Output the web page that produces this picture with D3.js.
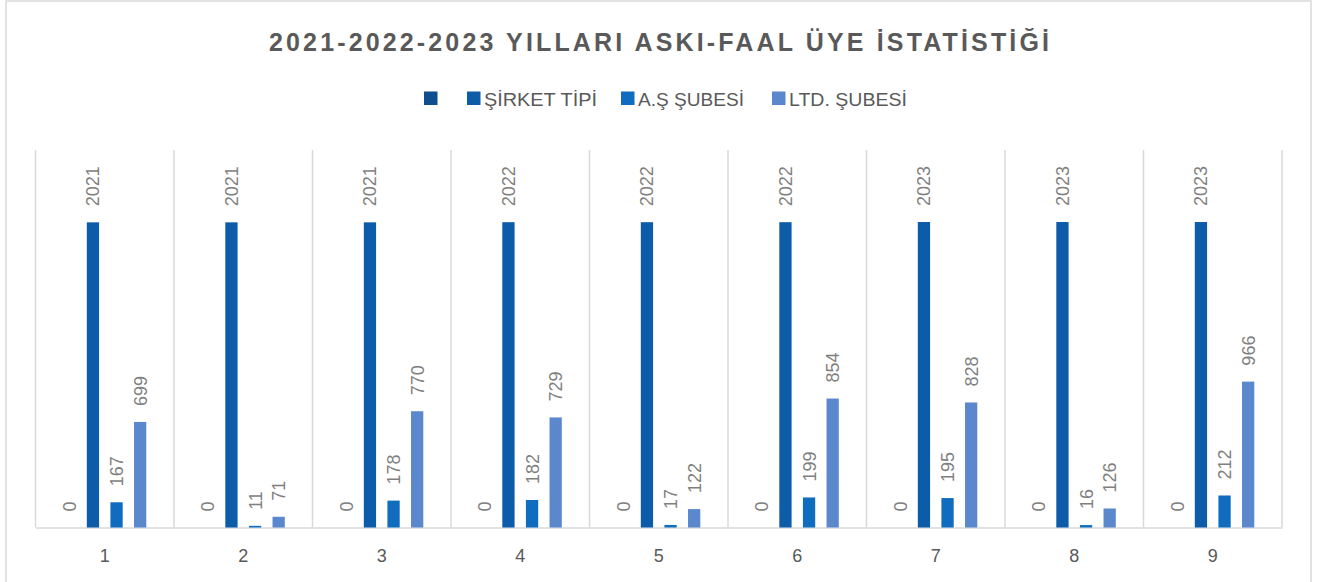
<!DOCTYPE html>
<html>
<head>
<meta charset="utf-8">
<script src="https://cdn.jsdelivr.net/npm/d3@7"></script>
<style>
  body { margin: 0; background: #fff; }
  text { font-family: "Liberation Sans", "Open Sans", sans-serif; }
</style>
</head>
<body>
<div id="target"></div>
<script>
// chart data
let categories = ["1", "2", "3", "4", "5", "6", "7", "8", "9"]
let seriesNames = ["", "ŞİRKET TİPİ", "A.Ş ŞUBESİ", "LTD. ŞUBESİ"]
let blankSeries = [0, 0, 0, 0, 0, 0, 0, 0, 0]
let sirketTipi = [2021, 2021, 2021, 2022, 2022, 2022, 2023, 2023, 2023]
let asSubesi = [167, 11, 178, 182, 17, 199, 195, 16, 212]
let ltdSubesi = [699, 71, 770, 729, 122, 854, 828, 126, 966]
let yDomain = [0, 2500]
let colors = ["#0f4f8f", "#0c5ca9", "#0f6cbf", "#5b88cc"]
let title = "2021-2022-2023 YILLARI ASKI-FAAL ÜYE İSTATİSTİĞİ"

let allSeries = [blankSeries, sirketTipi, asSubesi, ltdSubesi]

let width = 1330, height = 582
let plot = { left: 35.5, right: 1282, top: 150, bottom: 527.5 }

let svg = d3.select("#target").append("svg")
svg.attr("width", width).attr("height", height)

// outer chart border
svg.append("rect")
    .attr("x", 6).attr("y", 1)
    .attr("width", 1305).attr("height", 590)
    .attr("fill", "#fff")
    .attr("stroke", "#d9d9d9").attr("stroke-width", 1.5)

// title
svg.append("text")
    .attr("x", 659).attr("y", 51)
    .attr("text-anchor", "middle")
    .attr("font-size", 25).attr("font-weight", "bold")
    .attr("fill", "#595959")
    .attr("textLength", 780).attr("lengthAdjust", "spacing")
    .text(title)

// legend
let legendX = [424, 467, 621, 772]
let legendW = [0, 113, 106, 118]
let legend = svg.append("g")
seriesNames.forEach((name, i) => {
    legend.append("rect")
        .attr("x", legendX[i]).attr("y", 91.5)
        .attr("width", 13.5).attr("height", 13.5)
        .attr("fill", colors[i])
    if (name) {
        legend.append("text")
            .attr("x", legendX[i] + 17).attr("y", 105.5)
            .attr("font-size", 19).attr("fill", "#595959")
            .attr("textLength", legendW[i]).attr("lengthAdjust", "spacingAndGlyphs")
            .text(name)
    }
})

let x0 = d3.scaleBand().domain(categories).range([plot.left, plot.right])
let bw = x0.bandwidth()
let groupPad = bw * 0.2
let x1 = d3.scaleBand().domain(d3.range(allSeries.length))
    .range([groupPad, bw - groupPad]).paddingInner(0.48)
let y = d3.scaleLinear().domain(yDomain).range([plot.bottom, plot.top])

// category separators
let grid = svg.append("g")
grid.selectAll("line").data(categories.concat(["end"])).enter().append("line")
    .attr("x1", (d, i) => plot.left + i * bw)
    .attr("x2", (d, i) => plot.left + i * bw)
    .attr("y1", plot.top).attr("y2", plot.bottom)
    .attr("stroke", "#d9d9d9").attr("stroke-width", 1.5)

// x axis
let xAxis = svg.append("g")
    .attr("transform", `translate(0,${plot.bottom})`)
    .call(d3.axisBottom(x0).tickSize(0).tickPadding(22))
xAxis.select(".domain").attr("stroke", "#d9d9d9").attr("stroke-width", 1.5)
xAxis.selectAll("text")
    .attr("font-size", 18).attr("fill", "#595959")
    .style("font-family", "Liberation Sans, Open Sans, sans-serif")

// bars
let groups = svg.append("g").selectAll("g").data(categories).enter().append("g")
    .attr("transform", d => `translate(${x0(d)},0)`)

let cells = groups.selectAll("g.cell")
    .data((c, ci) => allSeries.map((s, si) => ({ si: si, v: s[ci] })))
    .enter().append("g").attr("class", "cell")

cells.append("rect")
    .attr("x", d => x1(d.si))
    .attr("y", d => y(d.v))
    .attr("width", x1.bandwidth())
    .attr("height", d => y(0) - y(d.v))
    .attr("fill", d => colors[d.si])

// rotated value labels
cells.append("text")
    .attr("transform", d => `translate(${x1(d.si) + x1.bandwidth() / 2 + 6.5},${y(d.v) - 16}) rotate(-90)`)
    .attr("font-size", 18).attr("fill", "#7f7f7f")
    .text(d => d.v)
</script>
</body>
</html>
